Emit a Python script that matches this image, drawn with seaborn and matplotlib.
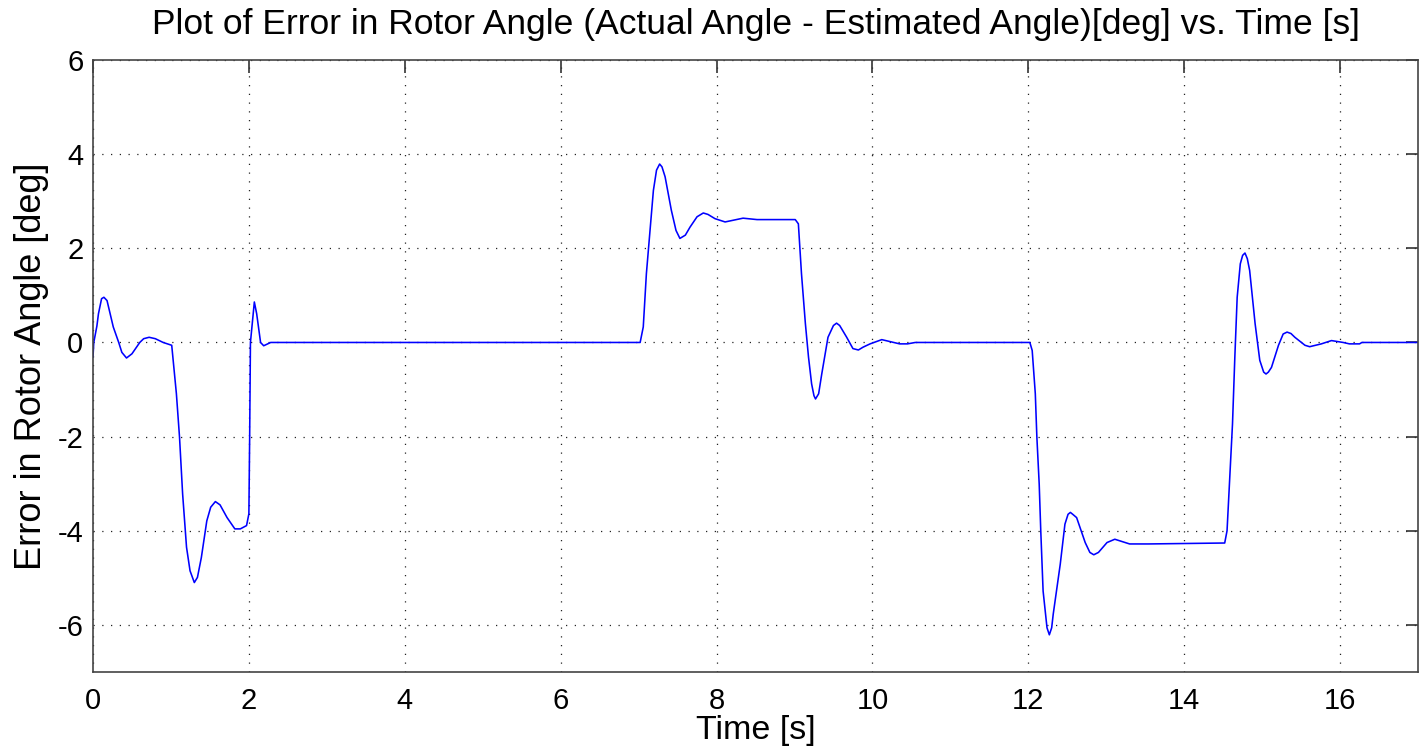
import matplotlib
matplotlib.use("Agg")
import matplotlib.pyplot as plt
import seaborn as sns
import pandas as pd

# Time [s] and error in rotor angle [deg]
time_s = [0.00, 0.01, 0.05, 0.07, 0.11, 0.14, 0.18, 0.22, 0.26, 0.33, 0.37, 0.43, 0.50, 0.60,
          0.65, 0.72, 0.80, 0.90, 1.01,
          1.07, 1.11, 1.15, 1.20, 1.245, 1.30, 1.34, 1.39, 1.46, 1.51, 1.57, 1.63, 1.72, 1.82,
          1.89, 1.97,
          2.00, 2.01, 2.02, 2.07, 2.10, 2.15, 2.19, 2.28,
          7.02, 7.06, 7.10, 7.15, 7.19, 7.23, 7.27, 7.30, 7.34, 7.42, 7.48, 7.53, 7.60, 7.66,
          7.75, 7.83, 7.89, 7.98, 8.11, 8.34, 8.52,
          9.01, 9.05, 9.09, 9.14, 9.18, 9.22, 9.25, 9.27, 9.31, 9.35, 9.43, 9.50, 9.54, 9.58,
          9.67, 9.75, 9.82, 9.88, 9.97, 10.12, 10.35, 10.45, 10.55,
          12.02, 12.05, 12.09, 12.11, 12.14, 12.16, 12.19, 12.24, 12.27, 12.30, 12.32, 12.41,
          12.47, 12.51, 12.54, 12.57, 12.62, 12.73, 12.79, 12.84, 12.90, 13.01, 13.11, 13.30,
          13.54,
          14.52, 14.55, 14.59, 14.62, 14.65, 14.68, 14.72, 14.75, 14.78, 14.81, 14.84, 14.91,
          14.97, 15.02, 15.05, 15.08, 15.12, 15.21, 15.27, 15.32, 15.37, 15.42, 15.55, 15.61,
          15.76, 15.89, 16.04, 16.12, 16.25, 16.28,
          17.00]
error_deg = [-0.31, 0.00, 0.35, 0.61, 0.93, 0.96, 0.89, 0.61, 0.33, 0.00, -0.21, -0.33, -0.24, 0.00,
             0.08, 0.11, 0.08, 0.00, -0.06,
             -1.09, -2.01, -3.22, -4.35, -4.85, -5.10, -4.99, -4.57, -3.79, -3.50, -3.38, -3.45,
             -3.72, -3.96, -3.96, -3.89,
             -3.64, -2.00, 0.00, 0.86, 0.61, 0.00, -0.07, 0.00,
             0.00, 0.33, 1.46, 2.45, 3.23, 3.66, 3.79, 3.73, 3.52, 2.81, 2.38, 2.21, 2.28, 2.45,
             2.67, 2.75, 2.72, 2.63, 2.56, 2.64, 2.61,
             2.61, 2.52, 1.46, 0.40, -0.31, -0.88, -1.13, -1.20, -1.09, -0.67, 0.11, 0.36, 0.41,
             0.36, 0.11, -0.13, -0.16, -0.10, -0.03, 0.06, -0.03, -0.03, 0.00,
             0.00, -0.17, -1.09, -2.01, -3.01, -4.00, -5.28, -6.06, -6.21, -6.06, -5.77, -4.71,
             -3.86, -3.65, -3.61, -3.65, -3.72, -4.25, -4.46, -4.51, -4.46, -4.25, -4.18, -4.28,
             -4.28,
             -4.26, -4.00, -2.72, -1.73, -0.31, 0.96, 1.67, 1.85, 1.90, 1.78, 1.53, 0.40,
             -0.38, -0.63, -0.67, -0.63, -0.53, -0.06, 0.18, 0.22, 0.19, 0.11, -0.06, -0.09,
             -0.03, 0.04, 0.00, -0.03, -0.03, 0.00,
             0.00]

x_ticks = [0, 2, 4, 6, 8, 10, 12, 14, 16]
y_ticks = [-6, -4, -2, 0, 2, 4, 6]

df = pd.DataFrame({"t": time_s, "err": error_deg})

sns.set_style("white")
plt.rcParams["font.family"] = ["Liberation Sans", "DejaVu Sans"]
plt.rcParams["text.color"] = "black"
plt.rcParams["axes.labelcolor"] = "black"
plt.rcParams["xtick.color"] = "black"
plt.rcParams["ytick.color"] = "black"

fig = plt.figure(figsize=(14.24, 7.5), dpi=100)
ax = fig.add_axes([93 / 1424, 1 - 672 / 750, (1418 - 93) / 1424, (672 - 60) / 750])

sns.lineplot(data=df, x="t", y="err", ax=ax, color="#0000ff", linewidth=1.15,
             estimator=None, sort=False)

ax.set_xlim(0, 17)
ax.set_ylim(-7, 6)
ax.set_xticks(x_ticks)
ax.set_yticks(y_ticks)
ax.set_xticklabels([str(v) for v in x_ticks])
ax.set_yticklabels([str(v) for v in y_ticks])

ax.grid(True, color="#222222", linestyle=(0, (1, 6)), linewidth=0.9)
ax.set_axisbelow(True)
for s in ax.spines.values():
    s.set_visible(True)
    s.set_color("#444444")
    s.set_linewidth(1.2)

ax.tick_params(axis="both", direction="in", length=9, width=1.2, color="#333333",
               labelsize=21, labelcolor="black", top=True, right=True,
               labeltop=False, labelright=False)
ax.tick_params(axis="x", pad=11)
ax.tick_params(axis="y", pad=7)

ax.set_title("Plot of Error in Rotor Angle (Actual Angle - Estimated Angle)[deg] vs. Time [s]",
             fontsize=25.5, pad=19, color="black")
ax.set_xlabel("Time [s]", fontsize=24.5, labelpad=0, color="black")
ax.set_ylabel("Error in Rotor Angle [deg]", fontsize=26, labelpad=6, color="black")

fig.savefig("out.png", dpi=100, facecolor="white")
